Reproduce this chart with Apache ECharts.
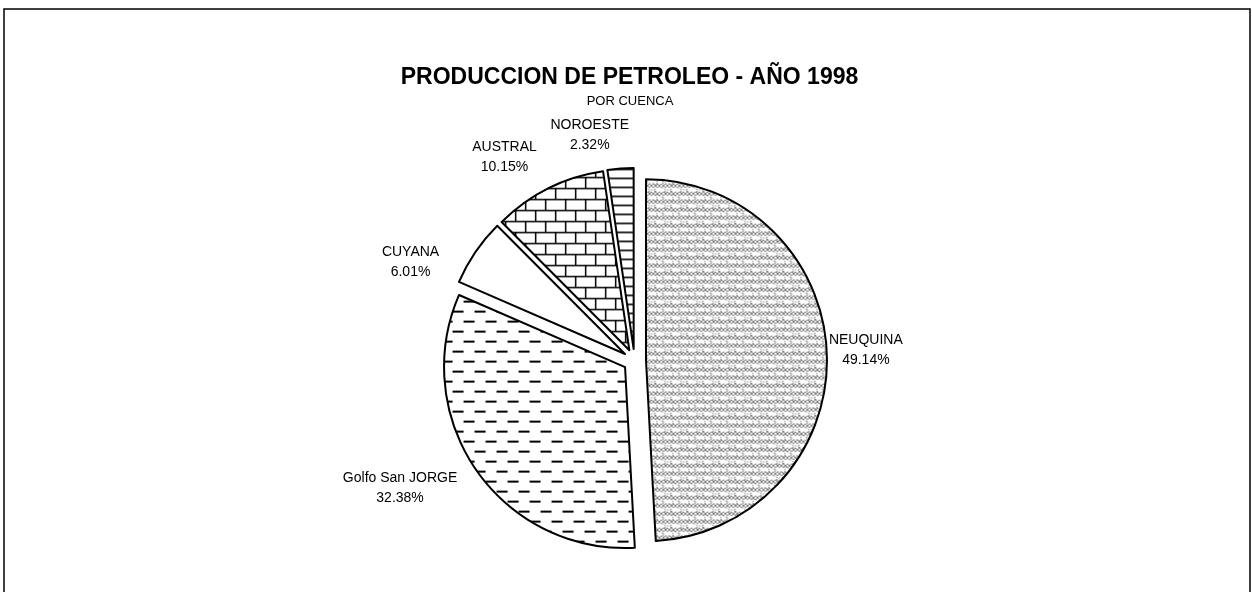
<!DOCTYPE html>
<html>
<head>
<meta charset="utf-8">
<style>
  html, body { margin: 0; padding: 0; background: #fff; }
  #chart { width: 1252px; height: 592px; }
</style>
<script src="https://cdn.jsdelivr.net/npm/echarts@6/dist/echarts.min.js"></script>
</head>
<body>
<div id="chart"></div>
<script>
// ---- data ----
const titleText = 'PRODUCCION DE PETROLEO - AÑO 1998';
const subtitleText = 'POR CUENCA';
const categories = ['NEUQUINA', 'Golfo San JORGE', 'CUYANA', 'AUSTRAL', 'NOROESTE'];
const shares = [49.14, 32.38, 6.01, 10.15, 2.32];

// ---- layout / style (not data) ----
const pieCenter = [634.5, 360.5];
const pieRadius = 181;
const explode = 11.5;
const labelGap = 10;
const labelFont = "14px 'Liberation Sans', Arial, sans-serif";
// small per-label nudges to mimic the original label placement
const labelNudge = {
  'NEUQUINA': [-8, -5],
  'Golfo San JORGE': [-11, -8],
  'CUYANA': [-28, 36],
  'AUSTRAL': [-7, -2],
  'NOROESTE': [-30, -3]
};

// ---- patterns ----
function makeTile(w, h, draw) {
  const c = document.createElement('canvas');
  c.width = w; c.height = h;
  const g = c.getContext('2d');
  g.fillStyle = '#fff';
  g.fillRect(0, 0, w, h);
  draw(g, w, h);
  return c;
}
// gray woven / stippled texture
const neuquinaTile = makeTile(16, 16, (g) => {
  for (let y = 0; y < 16; y++) {
    for (let x = 0; x < 16; x++) {
      let c = null;
      const by = y % 8;
      const xo = (y >= 8) ? 2 : 0;
      const xx = (x + xo) % 4;
      if (by < 4 && (xx === by || xx === 3 - by)) c = '#7a7a7a';
      if (by >= 5 && by <= 7 && ((x + (y >= 8 ? 8 : 0)) % 16 === 5 || (x + (y >= 8 ? 8 : 0)) % 16 === 11) && (y % 2 === 1)) c = '#6a6a6a';
      if (!c && ((x * 5 + y * 3) % 13 === 0)) c = '#a8a8a8';
      if (c) { g.fillStyle = c; g.fillRect(x, y, 1, 1); }
    }
  }
});
// staggered horizontal dashes
const golfoTile = makeTile(22, 20, (g) => {
  g.fillStyle = '#000';
  g.fillRect(0, 4, 11, 2);
  g.fillRect(11, 14, 11, 2);
});
// bricks
const australTile = makeTile(20, 22, (g) => {
  g.fillStyle = '#000';
  g.fillRect(0, 0, 20, 1.5);
  g.fillRect(0, 11, 20, 1.5);
  g.fillRect(0, 0, 1.5, 11);
  g.fillRect(10, 11, 1.5, 11);
});
// horizontal ladder lines
const noroesteTile = makeTile(10, 9, (g) => {
  g.fillStyle = '#000';
  g.fillRect(0, 0, 10, 1.6);
});
const fills = [
  { image: neuquinaTile, repeat: 'repeat' },
  { image: golfoTile, repeat: 'repeat' },
  '#ffffff',
  { image: australTile, repeat: 'repeat' },
  { image: noroesteTile, repeat: 'repeat' }
];

// ---- label placement derived from the data (slice mid angles) ----
const total = shares.reduce((a, b) => a + b, 0);
const measureCtx = document.createElement('canvas').getContext('2d');
measureCtx.font = labelFont;
const labelGraphics = [];
{
  let cum = 0;
  shares.forEach((s, i) => {
    const th = (cum + s / 2) / total * 2 * Math.PI;
    cum += s;
    const ux = Math.sin(th), uy = -Math.cos(th);
    const d = explode + pieRadius + labelGap;
    const ax = pieCenter[0] + d * ux;
    const ay = pieCenter[1] + d * uy;
    const line1 = categories[i];
    const line2 = s.toFixed(2) + '%';
    const w = Math.max(measureCtx.measureText(line1).width, measureCtx.measureText(line2).width);
    const h = 40;
    const sx = Math.abs(ux) < 0.15 ? 0 : Math.sign(ux);
    const sy = Math.abs(uy) < 0.3 ? 0 : Math.sign(uy);
    const n = labelNudge[line1] || [0, 0];
    labelGraphics.push({
      type: 'text',
      x: ax + sx * w / 2 + n[0],
      y: ay + sy * h / 2 + n[1],
      silent: true,
      style: {
        text: line1 + '\n' + line2,
        fill: '#000',
        font: labelFont,
        lineHeight: 20,
        textAlign: 'center',
        textVerticalAlign: 'middle'
      }
    });
  });
}

const chart = echarts.init(document.getElementById('chart'), null, { renderer: 'canvas' });

chart.setOption({
  backgroundColor: '#fff',
  animation: false,
  graphic: [
    { type: 'rect', shape: { x: 4, y: 9, width: 1246, height: 620 },
      style: { fill: 'none', stroke: '#000', lineWidth: 1.5 }, silent: true },
    { type: 'text', x: 629.5, y: 78,
      style: { text: titleText, fill: '#000', font: "bold 23px 'Liberation Sans', Arial, sans-serif",
               textAlign: 'center', textVerticalAlign: 'middle' } },
    { type: 'text', x: 630, y: 101,
      style: { text: subtitleText, fill: '#000', font: "13px 'Liberation Sans', Arial, sans-serif",
               textAlign: 'center', textVerticalAlign: 'middle' } }
  ].concat(labelGraphics),
  series: [{
    type: 'pie',
    center: pieCenter,
    radius: pieRadius,
    startAngle: 90,
    clockwise: true,
    selectedMode: 'multiple',
    selectedOffset: explode,
    itemStyle: { borderColor: '#000', borderWidth: 2 },
    emphasis: { disabled: true },
    select: { itemStyle: { borderColor: '#000', borderWidth: 2 } },
    label: { show: false },
    labelLine: { show: false },
    data: categories.map((name, i) => ({
      name: name,
      value: shares[i],
      selected: true,
      itemStyle: { color: fills[i] }
    }))
  }]
});
</script>
</body>
</html>
